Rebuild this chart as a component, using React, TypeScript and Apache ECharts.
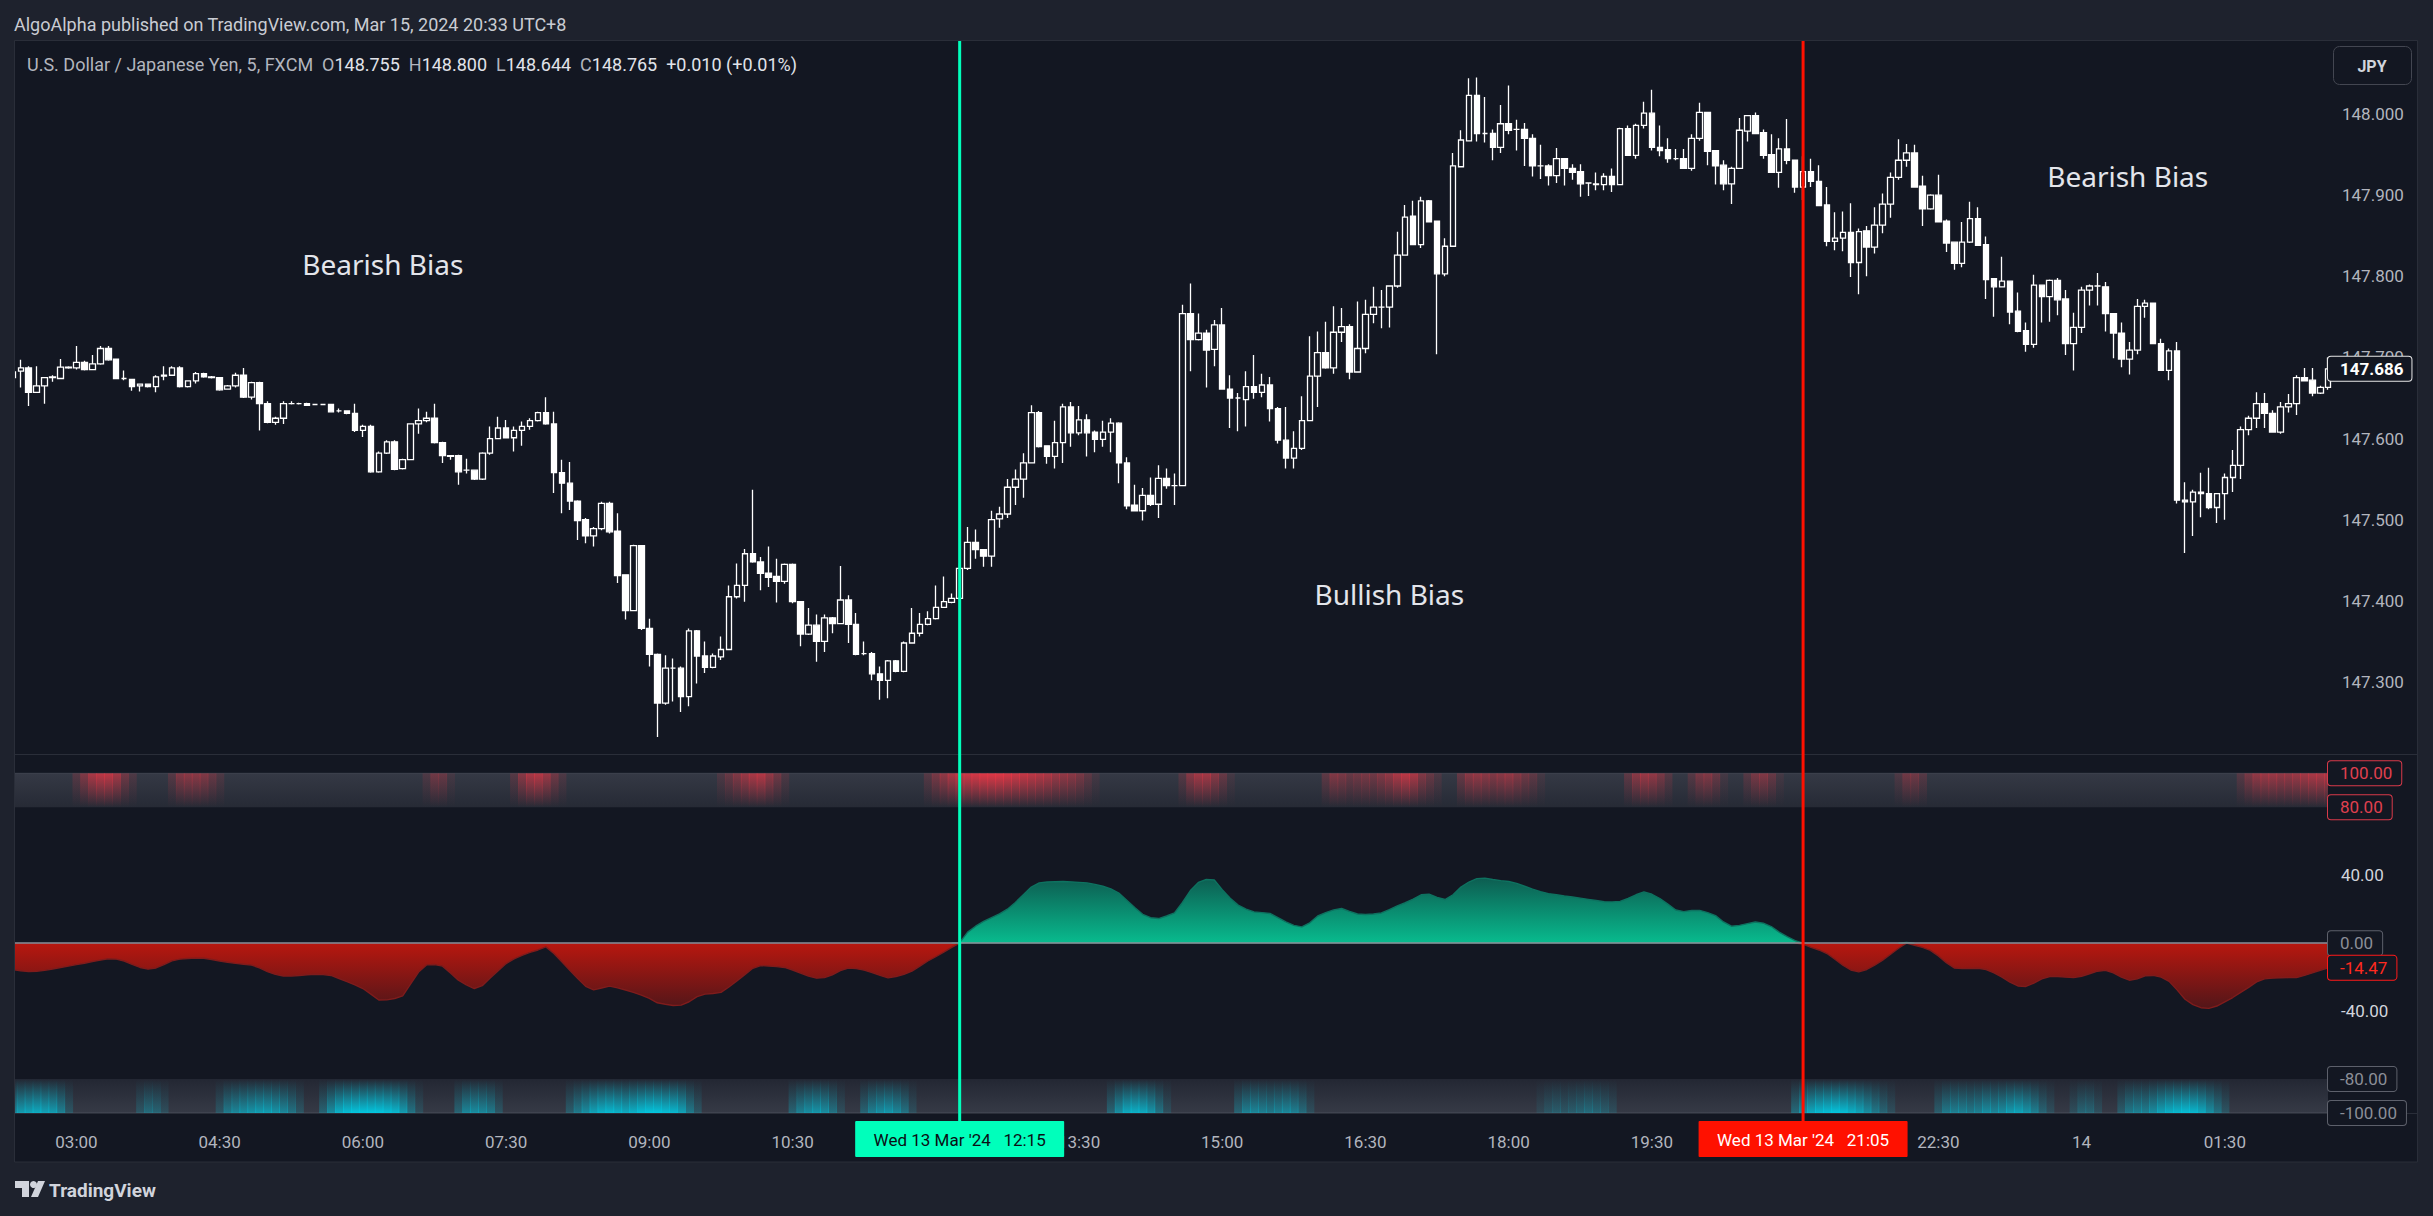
import React, { useEffect, useRef } from "react";
import * as echarts from "echarts";

const W = 2433;
const H = 1216;

// USD/JPY 5-minute candles, bar 0 = 02:20 (Wed 13 Mar '24). [open, close, low, high]
const candles: number[][] = [
  [147.675, 147.682, 147.672, 147.688], [147.683, 147.687, 147.663, 147.697], [147.687, 147.657, 147.640, 147.689], [147.657, 147.665, 147.657, 147.689], [147.665, 147.675, 147.643, 147.676],
  [147.675, 147.676, 147.670, 147.678], [147.674, 147.688, 147.674, 147.698], [147.687, 147.688, 147.686, 147.689], [147.687, 147.694, 147.685, 147.714], [147.694, 147.685, 147.684, 147.696],
  [147.685, 147.692, 147.685, 147.703], [147.692, 147.711, 147.691, 147.714], [147.711, 147.697, 147.696, 147.714], [147.698, 147.674, 147.674, 147.698], [147.674, 147.674, 147.672, 147.684],
  [147.673, 147.664, 147.659, 147.673], [147.665, 147.667, 147.658, 147.668], [147.667, 147.664, 147.663, 147.668], [147.664, 147.676, 147.657, 147.678], [147.677, 147.678, 147.672, 147.689],
  [147.678, 147.687, 147.677, 147.689], [147.687, 147.664, 147.663, 147.689], [147.664, 147.671, 147.663, 147.672], [147.671, 147.680, 147.668, 147.682], [147.680, 147.676, 147.675, 147.681],
  [147.676, 147.675, 147.674, 147.677], [147.675, 147.660, 147.659, 147.676], [147.661, 147.665, 147.660, 147.666], [147.665, 147.678, 147.663, 147.681], [147.678, 147.651, 147.650, 147.687],
  [147.651, 147.669, 147.648, 147.670], [147.669, 147.643, 147.610, 147.670], [147.643, 147.620, 147.619, 147.646], [147.620, 147.625, 147.617, 147.627], [147.625, 147.643, 147.618, 147.646],
  [147.643, 147.643, 147.642, 147.646], [147.643, 147.643, 147.642, 147.644], [147.643, 147.641, 147.640, 147.644], [147.642, 147.642, 147.641, 147.643], [147.642, 147.642, 147.641, 147.643],
  [147.642, 147.633, 147.632, 147.643], [147.634, 147.634, 147.632, 147.637], [147.634, 147.631, 147.630, 147.635], [147.631, 147.610, 147.608, 147.643], [147.610, 147.615, 147.602, 147.617],
  [147.615, 147.559, 147.558, 147.617], [147.559, 147.582, 147.558, 147.584], [147.582, 147.596, 147.581, 147.598], [147.596, 147.562, 147.561, 147.598], [147.563, 147.574, 147.562, 147.575],
  [147.574, 147.618, 147.574, 147.619], [147.618, 147.622, 147.606, 147.637], [147.622, 147.625, 147.620, 147.633], [147.625, 147.595, 147.594, 147.643], [147.595, 147.579, 147.570, 147.596],
  [147.579, 147.578, 147.574, 147.579], [147.579, 147.559, 147.543, 147.580], [147.561, 147.561, 147.557, 147.575], [147.561, 147.550, 147.549, 147.562], [147.550, 147.582, 147.549, 147.583],
  [147.582, 147.600, 147.580, 147.615], [147.600, 147.613, 147.600, 147.627], [147.613, 147.601, 147.600, 147.623], [147.601, 147.610, 147.584, 147.615], [147.610, 147.615, 147.591, 147.621],
  [147.615, 147.622, 147.611, 147.625], [147.622, 147.632, 147.621, 147.633], [147.632, 147.618, 147.617, 147.651], [147.618, 147.558, 147.533, 147.633], [147.558, 147.545, 147.508, 147.574],
  [147.545, 147.523, 147.512, 147.571], [147.523, 147.499, 147.475, 147.524], [147.500, 147.480, 147.471, 147.502], [147.480, 147.489, 147.467, 147.491], [147.489, 147.520, 147.487, 147.522],
  [147.520, 147.485, 147.483, 147.522], [147.486, 147.431, 147.422, 147.508], [147.432, 147.388, 147.377, 147.432], [147.388, 147.468, 147.387, 147.469], [147.468, 147.366, 147.364, 147.468],
  [147.366, 147.334, 147.319, 147.378], [147.334, 147.274, 147.232, 147.335], [147.274, 147.317, 147.272, 147.333], [147.317, 147.317, 147.276, 147.329], [147.317, 147.282, 147.263, 147.319],
  [147.282, 147.363, 147.270, 147.366], [147.363, 147.332, 147.298, 147.364], [147.332, 147.318, 147.311, 147.350], [147.318, 147.332, 147.317, 147.335], [147.331, 147.340, 147.327, 147.356],
  [147.340, 147.405, 147.339, 147.419], [147.405, 147.419, 147.403, 147.446], [147.419, 147.458, 147.399, 147.464], [147.458, 147.448, 147.447, 147.537], [147.448, 147.434, 147.413, 147.454],
  [147.434, 147.429, 147.417, 147.467], [147.430, 147.424, 147.398, 147.452], [147.424, 147.445, 147.421, 147.446], [147.445, 147.399, 147.397, 147.446], [147.399, 147.359, 147.344, 147.399],
  [147.359, 147.370, 147.358, 147.391], [147.370, 147.350, 147.325, 147.383], [147.350, 147.379, 147.337, 147.383], [147.379, 147.372, 147.360, 147.380], [147.372, 147.401, 147.371, 147.443],
  [147.401, 147.371, 147.348, 147.407], [147.371, 147.334, 147.333, 147.385], [147.335, 147.335, 147.333, 147.350], [147.335, 147.310, 147.302, 147.337], [147.310, 147.302, 147.278, 147.319],
  [147.302, 147.326, 147.280, 147.327], [147.326, 147.313, 147.312, 147.327], [147.313, 147.348, 147.312, 147.350], [147.348, 147.360, 147.347, 147.391], [147.360, 147.371, 147.356, 147.385],
  [147.371, 147.378, 147.370, 147.387], [147.378, 147.392, 147.377, 147.419], [147.392, 147.399, 147.391, 147.430], [147.398, 147.403, 147.397, 147.409], [147.403, 147.440, 147.401, 147.446],
  [147.440, 147.472, 147.438, 147.491], [147.472, 147.463, 147.452, 147.488], [147.463, 147.455, 147.442, 147.464], [147.455, 147.500, 147.442, 147.511], [147.501, 147.507, 147.490, 147.516],
  [147.507, 147.540, 147.502, 147.550], [147.540, 147.550, 147.518, 147.562], [147.550, 147.570, 147.527, 147.582], [147.570, 147.632, 147.570, 147.641], [147.632, 147.590, 147.589, 147.634],
  [147.591, 147.578, 147.569, 147.591], [147.578, 147.595, 147.563, 147.622], [147.595, 147.639, 147.570, 147.643], [147.639, 147.607, 147.590, 147.645], [147.607, 147.623, 147.604, 147.640],
  [147.623, 147.607, 147.578, 147.630], [147.608, 147.599, 147.583, 147.610], [147.599, 147.608, 147.590, 147.622], [147.608, 147.619, 147.583, 147.625], [147.619, 147.570, 147.545, 147.620],
  [147.570, 147.517, 147.513, 147.577], [147.518, 147.511, 147.511, 147.543], [147.511, 147.530, 147.499, 147.539], [147.530, 147.519, 147.517, 147.552], [147.519, 147.551, 147.502, 147.567],
  [147.551, 147.542, 147.538, 147.563], [147.542, 147.542, 147.518, 147.557], [147.542, 147.754, 147.542, 147.765], [147.754, 147.722, 147.683, 147.791], [147.722, 147.730, 147.721, 147.754],
  [147.730, 147.709, 147.663, 147.734], [147.710, 147.740, 147.689, 147.746], [147.740, 147.661, 147.660, 147.761], [147.661, 147.650, 147.613, 147.678], [147.650, 147.650, 147.609, 147.656],
  [147.648, 147.664, 147.615, 147.683], [147.664, 147.657, 147.649, 147.703], [147.657, 147.666, 147.651, 147.680], [147.666, 147.637, 147.621, 147.676], [147.637, 147.598, 147.594, 147.639],
  [147.598, 147.576, 147.563, 147.639], [147.576, 147.588, 147.563, 147.609], [147.588, 147.622, 147.586, 147.652], [147.622, 147.677, 147.622, 147.726], [147.677, 147.706, 147.639, 147.732],
  [147.706, 147.687, 147.686, 147.744], [147.687, 147.731, 147.680, 147.763], [147.731, 147.738, 147.719, 147.761], [147.738, 147.682, 147.673, 147.741], [147.682, 147.711, 147.682, 147.769],
  [147.711, 147.753, 147.705, 147.771], [147.753, 147.762, 147.742, 147.787], [147.762, 147.762, 147.736, 147.783], [147.762, 147.788, 147.737, 147.789], [147.788, 147.826, 147.786, 147.855],
  [147.826, 147.873, 147.826, 147.888], [147.874, 147.839, 147.839, 147.893], [147.839, 147.893, 147.835, 147.898], [147.893, 147.867, 147.867, 147.894], [147.868, 147.803, 147.704, 147.868],
  [147.803, 147.837, 147.800, 147.847], [147.837, 147.936, 147.837, 147.952], [147.935, 147.968, 147.935, 147.980], [147.967, 148.023, 147.966, 148.044], [148.023, 147.976, 147.966, 148.045],
  [147.976, 147.976, 147.965, 148.021], [147.976, 147.959, 147.943, 147.981], [147.959, 147.988, 147.952, 148.011], [147.988, 147.980, 147.975, 148.035], [147.981, 147.981, 147.955, 147.993],
  [147.981, 147.970, 147.936, 147.989], [147.970, 147.936, 147.923, 147.975], [147.936, 147.936, 147.920, 147.962], [147.936, 147.924, 147.912, 147.938], [147.924, 147.945, 147.915, 147.958],
  [147.945, 147.933, 147.912, 147.945], [147.933, 147.928, 147.919, 147.938], [147.929, 147.914, 147.898, 147.938], [147.915, 147.915, 147.899, 147.916], [147.913, 147.914, 147.906, 147.928],
  [147.913, 147.923, 147.906, 147.927], [147.923, 147.913, 147.904, 147.933], [147.913, 147.982, 147.913, 147.983], [147.982, 147.949, 147.949, 147.986], [147.949, 147.986, 147.945, 147.988],
  [147.986, 148.001, 147.982, 148.015], [148.001, 147.959, 147.955, 148.030], [147.959, 147.955, 147.948, 147.986], [147.956, 147.945, 147.940, 147.970], [147.945, 147.945, 147.943, 147.957],
  [147.945, 147.933, 147.933, 147.957], [147.933, 147.970, 147.930, 147.975], [147.970, 148.002, 147.967, 148.014], [148.002, 147.954, 147.937, 148.002], [147.955, 147.936, 147.913, 147.955],
  [147.937, 147.914, 147.906, 147.943], [147.914, 147.933, 147.889, 147.935], [147.933, 147.980, 147.933, 147.995], [147.979, 147.998, 147.966, 147.998], [147.998, 147.976, 147.976, 148.002],
  [147.977, 147.949, 147.945, 147.981], [147.950, 147.928, 147.928, 147.975], [147.928, 147.957, 147.909, 147.970], [147.957, 147.943, 147.938, 147.994], [147.943, 147.910, 147.903, 147.943],
  [147.910, 147.929, 147.894, 147.948], [147.929, 147.917, 147.910, 147.945], [147.917, 147.887, 147.887, 147.937], [147.888, 147.843, 147.837, 147.910], [147.843, 147.847, 147.832, 147.879],
  [147.847, 147.854, 147.831, 147.880], [147.854, 147.817, 147.799, 147.890], [147.817, 147.855, 147.778, 147.859], [147.856, 147.836, 147.800, 147.862], [147.836, 147.863, 147.828, 147.885],
  [147.863, 147.889, 147.853, 147.902], [147.889, 147.922, 147.872, 147.928], [147.922, 147.943, 147.919, 147.969], [147.943, 147.952, 147.935, 147.963], [147.952, 147.910, 147.910, 147.962],
  [147.911, 147.883, 147.862, 147.924], [147.883, 147.900, 147.882, 147.901], [147.900, 147.867, 147.867, 147.925], [147.868, 147.841, 147.830, 147.870], [147.842, 147.816, 147.808, 147.842],
  [147.816, 147.842, 147.811, 147.867], [147.842, 147.871, 147.841, 147.892], [147.871, 147.838, 147.838, 147.885], [147.839, 147.796, 147.772, 147.849], [147.797, 147.787, 147.750, 147.797],
  [147.787, 147.794, 147.787, 147.824], [147.794, 147.756, 147.741, 147.794], [147.757, 147.732, 147.731, 147.780], [147.733, 147.716, 147.707, 147.743], [147.716, 147.789, 147.712, 147.802],
  [147.789, 147.775, 147.743, 147.789], [147.775, 147.795, 147.744, 147.796], [147.795, 147.771, 147.752, 147.798], [147.772, 147.717, 147.703, 147.783], [147.717, 147.737, 147.684, 147.755],
  [147.737, 147.783, 147.730, 147.787], [147.783, 147.788, 147.764, 147.790], [147.788, 147.788, 147.764, 147.804], [147.787, 147.754, 147.732, 147.793], [147.754, 147.730, 147.699, 147.754],
  [147.730, 147.698, 147.688, 147.743], [147.698, 147.709, 147.679, 147.719], [147.709, 147.763, 147.704, 147.772], [147.763, 147.767, 147.749, 147.771], [147.767, 147.717, 147.717, 147.767],
  [147.717, 147.684, 147.684, 147.723], [147.684, 147.708, 147.672, 147.711], [147.708, 147.524, 147.520, 147.719], [147.524, 147.522, 147.459, 147.546], [147.522, 147.534, 147.480, 147.537],
  [147.534, 147.532, 147.503, 147.558], [147.532, 147.515, 147.513, 147.564], [147.515, 147.532, 147.496, 147.533], [147.532, 147.552, 147.500, 147.557], [147.552, 147.567, 147.534, 147.586],
  [147.567, 147.611, 147.550, 147.615], [147.611, 147.625, 147.604, 147.628], [147.625, 147.643, 147.613, 147.657], [147.643, 147.631, 147.613, 147.656], [147.631, 147.608, 147.608, 147.635],
  [147.608, 147.639, 147.606, 147.645], [147.639, 147.643, 147.632, 147.655], [147.643, 147.675, 147.629, 147.678], [147.675, 147.671, 147.671, 147.687], [147.672, 147.656, 147.652, 147.687],
  [147.656, 147.663, 147.655, 147.665], [147.663, 147.686, 147.660, 147.700],
];

// Oscillator value per bar
const oscillator: number[] = [
  -15.5, -16.2, -16.7, -16.5, -16.0, -15.2, -14.3, -13.5, -12.6, -11.8,
  -10.8, -10.0, -9.2, -9.4, -10.5, -12.5, -14.3, -15.3, -14.6, -12.6,
  -10.4, -9.4, -9.0, -8.8, -8.9, -9.6, -10.5, -11.2, -11.9, -12.4,
  -12.9, -14.5, -16.8, -18.4, -19.3, -19.4, -19.0, -18.6, -18.3, -18.5,
  -19.0, -20.8, -22.7, -24.6, -26.7, -30.0, -33.5, -33.4, -32.6, -31.0,
  -24.0, -17.0, -12.8, -12.6, -13.5, -17.5, -21.8, -24.5, -26.7, -25.0,
  -20.5, -16.3, -12.0, -9.2, -7.2, -5.4, -4.0, -2.2, -6.1, -11.0,
  -16.0, -20.8, -25.4, -27.5, -26.4, -25.3, -26.3, -27.6, -29.0, -30.6,
  -32.5, -35.1, -36.0, -36.7, -36.5, -34.5, -31.5, -30.0, -29.6, -29.0,
  -25.8, -22.2, -18.5, -14.8, -13.2, -13.4, -13.8, -14.3, -15.8, -17.6,
  -19.4, -20.6, -20.3, -18.6, -16.2, -14.7, -15.0, -15.9, -17.3, -19.0,
  -20.4, -19.6, -18.4, -16.5, -13.5, -10.5, -8.0, -5.3, -2.5, 0.3,
  6.5, 10.0, 12.8, 15.0, 17.2, 20.0, 24.0, 28.5, 33.0, 35.5,
  36.0, 36.2, 36.3, 36.1, 35.8, 35.5, 34.6, 33.5, 32.0, 29.5,
  25.3, 21.0, 17.0, 15.0, 14.5, 16.0, 17.8, 24.0, 31.0, 35.8,
  37.5, 37.2, 31.5, 26.5, 22.4, 20.0, 18.4, 18.0, 17.5, 15.0,
  12.5, 10.5, 9.6, 12.0, 16.0, 18.0, 19.6, 20.4, 18.7, 17.2,
  16.9, 17.2, 17.8, 19.8, 22.0, 23.8, 26.0, 28.5, 28.8, 27.0,
  25.7, 28.5, 33.0, 36.0, 38.0, 38.3, 37.5, 36.8, 36.3, 35.2,
  33.5, 31.8, 30.3, 29.2, 28.5, 27.8, 27.2, 26.5, 25.8, 25.1,
  24.4, 24.3, 24.6, 26.3, 28.5, 30.2, 28.8, 26.3, 23.0, 19.5,
  18.6, 19.2, 19.3, 18.0, 16.2, 12.5, 10.0, 10.5, 11.5, 12.5,
  11.8, 9.8, 6.5, 3.8, 1.5, -0.5, -2.5, -4.0, -6.1, -9.5,
  -13.0, -15.8, -16.9, -15.5, -13.0, -10.0, -6.5, -3.0, 0.5, -1.2,
  -2.5, -4.2, -7.5, -11.5, -14.6, -15.0, -14.9, -14.8, -15.5, -17.5,
  -20.0, -23.0, -25.2, -25.5, -23.5, -21.0, -19.6, -19.6, -20.0, -20.3,
  -19.5, -18.0, -16.5, -16.0, -17.5, -20.0, -21.8, -21.0, -19.2, -19.0,
  -20.0, -22.5, -27.5, -33.0, -36.2, -38.0, -38.4, -37.0, -34.5, -32.0,
  -29.0, -26.0, -22.8, -21.0, -20.6, -20.4, -20.3, -20.3, -19.0, -17.5,
  -16.0, -14.47,
];

// Heat strips: [bar, intensity 0..1]
const overboughtHeat: number[][] = [
  [8, .2], [9, .45], [10, .7], [11, .8], [12, .8], [13, .65], [14, .35], [15, .15],
  [20, .2], [21, .45], [22, .5], [23, .5], [24, .45], [25, .3], [26, .15],
  [52, .15], [53, .35], [54, .3], [55, .1],
  [63, .2], [64, .5], [65, .7], [66, .75], [67, .6], [68, .35], [69, .15],
  [89, .15], [90, .3], [91, .45], [92, .6], [93, .7], [94, .75], [95, .55], [96, .35], [97, .15],
  [115, .2], [116, .4], [117, .55], [118, .7], [119, .8], [120, .9], [121, .95], [122, 1], [123, 1], [124, 1], [125, .95], [126, .9], [127, .85], [128, .8], [129, .75], [130, .7], [131, .6], [132, .55], [133, .5], [134, .4], [135, .25], [136, .1],
  [147, .2], [148, .5], [149, .65], [150, .65], [151, .5], [152, .3], [153, .1],
  [165, .25], [166, .45], [167, .4], [168, .3], [169, .35], [170, .4], [171, .35], [172, .45], [173, .55], [174, .7], [175, .8], [176, .7], [177, .45], [178, .3], [179, .15],
  [182, .3], [183, .5], [184, .55], [185, .5], [186, .45], [187, .5], [188, .55], [189, .45], [190, .35], [191, .25], [192, .1],
  [203, .25], [204, .5], [205, .6], [206, .55], [207, .4], [208, .2],
  [211, .2], [212, .4], [213, .45], [214, .3], [215, .1],
  [218, .2], [219, .4], [220, .45], [221, .3], [222, .1],
  [237, .15], [238, .35], [239, .35], [240, .2],
  [280, .2], [281, .4], [282, .55], [283, .6], [284, .6], [285, .55], [286, .55], [287, .6], [288, .65], [289, .7], [290, .7], [291, .7],
];
const oversoldHeat: number[][] = [
  [0, .5], [1, .7], [2, .75], [3, .8], [4, .75], [5, .7], [6, .5], [7, .2],
  [16, .2], [17, .35], [18, .3], [19, .15],
  [26, .2], [27, .45], [28, .55], [29, .6], [30, .65], [31, .7], [32, .7], [33, .65], [34, .55], [35, .4], [36, .2],
  [39, .3], [40, .6], [41, .85], [42, .95], [43, 1], [44, 1], [45, 1], [46, 1], [47, .95], [48, .9], [49, .7], [50, .4], [51, .15],
  [56, .3], [57, .55], [58, .6], [59, .55], [60, .45], [61, .2],
  [70, .25], [71, .45], [72, .6], [73, .75], [74, .85], [75, .9], [76, .85], [77, .8], [78, .85], [79, .95], [80, 1], [81, 1], [82, .95], [83, .9], [84, .75], [85, .45], [86, .2],
  [98, .3], [99, .5], [100, .6], [101, .65], [102, .6], [103, .4], [104, .15],
  [107, .3], [108, .5], [109, .6], [110, .65], [111, .55], [112, .4], [113, .15],
  [138, .3], [139, .6], [140, .8], [141, .85], [142, .8], [143, .65], [144, .4], [145, .15],
  [154, .3], [155, .5], [156, .55], [157, .5], [158, .45], [159, .5], [160, .55], [161, .5], [162, .35], [163, .15],
  [192, .1], [193, .2], [194, .25], [195, .2], [196, .25], [197, .3], [198, .35], [199, .3], [200, .25], [201, .15],
  [224, .35], [225, .6], [226, .8], [227, .9], [228, .95], [229, 1], [230, .95], [231, .85], [232, .75], [233, .6], [234, .45], [235, .3], [236, .15],
  [242, .25], [243, .45], [244, .5], [245, .5], [246, .45], [247, .5], [248, .6], [249, .55], [250, .6], [251, .7], [252, .75], [253, .65], [254, .5], [255, .3], [256, .15],
  [259, .15], [260, .3], [261, .3], [262, .15],
  [265, .25], [266, .45], [267, .5], [268, .5], [269, .6], [270, .75], [271, .85], [272, .9], [273, .95], [274, .9], [275, .8], [276, .6], [277, .4], [278, .2],
];

// Visible time-axis ticks (12:00 and 21:00 are covered by the crosshair badges in the reference)
const timeTickBars = [8, 26, 44, 62, 80, 98, 134, 152, 170, 188, 206, 242, 260, 278];
const timeTickLabels = ["03:00", "04:30", "06:00", "07:30", "09:00", "10:30", "13:30", "15:00", "16:30", "18:00", "19:30", "22:30", "14", "01:30"];
const priceTicks = [147.3, 147.4, 147.5, 147.6, 147.7, 147.8, 147.9, 148.0];
const oscTicks = [40, -40];
const oscUpperLevels = [100, 80];
const oscLowerLevels = [0, -80, -100];
const biasFlips = [
  { bar: 119, label: "Wed 13 Mar '24   12:15", bullish: true },
  { bar: 225, label: "Wed 13 Mar '24   21:05", bullish: false },
];
const biasLabels = [
  { text: "Bearish Bias", bar: 46.5, price: 147.815 },
  { text: "Bullish Bias", bar: 173, price: 147.408 },
  { text: "Bearish Bias", bar: 265.8, price: 147.924 },
];
const headerTitle = "AlgoAlpha published on TradingView.com, Mar 15, 2024 20:33 UTC+8";
const symbolTitle = "U.S. Dollar / Japanese Yen, 5, FXCM";
const headerOHLC = [["O", "148.755"], ["H", "148.800"], ["L", "148.644"], ["C", "148.765"]];
const headerChange = "+0.010 (+0.01%)";

const FONT = "Roboto, 'Noto Sans', sans-serif";
const BG = "#131722";
const OUTER = "#1e222d";
const BORDER = "#2a2e39";

export default function App() {
  const ref = useRef<HTMLDivElement>(null);
  useEffect(() => {
    const chart = echarts.init(ref.current!, null, { renderer: "svg" });
    const n = oscillator.length;
    const neg = oscillator.map((v, i) => {
      if (v <= 0) return [i, v];
      const a = i > 0 ? oscillator[i - 1] : 1, b = i < n - 1 ? oscillator[i + 1] : 1;
      return a <= 0 || b <= 0 ? [i, 0] : [i, "-"];
    });
    const pos = oscillator.map((v, i) => {
      if (v >= 0) return [i, v];
      const a = i > 0 ? oscillator[i - 1] : -1, b = i < n - 1 ? oscillator[i + 1] : -1;
      return a >= 0 || b >= 0 ? [i, 0] : [i, "-"];
    });
    const heat = overboughtHeat.map((d) => [d[0], d[1], 0]).concat(oversoldHeat.map((d) => [d[0], d[1], 1]));
    const xRange = { min: 0.276, max: 290.97 };

    const option: any = {
      animation: false,
      backgroundColor: BG,
      grid: [
        { left: 15, right: 105, top: 41, height: 713, containLabel: false, outerBoundsMode: "none" },
        { left: 15, right: 105, top: 755, height: 358, containLabel: false, outerBoundsMode: "none" },
      ],
      xAxis: [
        { type: "value", gridIndex: 0, ...xRange, show: false, splitLine: { show: false } },
        {
          type: "value", gridIndex: 1, ...xRange,
          axisLine: { show: false }, axisTick: { show: false }, splitLine: { show: false },
          axisLabel: {
            customValues: timeTickBars, color: "#b2b5be", fontSize: 17, fontFamily: FONT,
            margin: 29, verticalAlign: "middle",
            formatter: (v: number) => timeTickLabels[timeTickBars.indexOf(Math.round(v))] ?? "",
          },
        },
      ],
      yAxis: [
        {
          type: "value", gridIndex: 0, position: "right", min: 147.2112, max: 148.09, scale: true,
          axisLine: { show: false }, axisTick: { show: false }, splitLine: { show: false },
          axisLabel: { customValues: priceTicks, color: "#b2b5be", fontSize: 17, fontFamily: FONT, margin: 14, align: "left", formatter: (v: number) => v.toFixed(3) },
        },
        {
          type: "value", gridIndex: 1, position: "right", min: -100, max: 110.8,
          axisLine: { show: false }, axisTick: { show: false }, splitLine: { show: false },
          axisLabel: { customValues: oscTicks, color: "#d1d4dc", fontSize: 17, fontFamily: FONT, margin: 13, align: "left", formatter: (v: number) => v.toFixed(2) },
        },
      ],
      series: [
        {
          type: "custom", xAxisIndex: 1, yAxisIndex: 1, silent: true, clip: true, z: 1,
          data: [[80, 100, 0], [-100, -80, 1]],
          renderItem: (params: any, api: any) => {
            const cs = params.coordSys;
            const yTop = api.coord([1, api.value(1)])[1];
            const yBot = api.coord([1, api.value(0)])[1];
            const upper = api.value(2) === 0;
            return {
              type: "group",
              children: [
                {
                  type: "rect", shape: { x: cs.x, y: yTop, width: cs.width, height: yBot - yTop },
                  style: {
                    fill: {
                      type: "linear", x: 0, y: 0, x2: 0, y2: 1,
                      colorStops: upper
                        ? [{ offset: 0, color: "#353945" }, { offset: 1, color: "#262a35" }]
                        : [{ offset: 0, color: "#232733" }, { offset: 1, color: "#363a46" }],
                    },
                  },
                },
                {
                  type: "line", shape: { x1: cs.x, y1: upper ? yTop : yBot, x2: cs.x + cs.width, y2: upper ? yTop : yBot },
                  style: { stroke: upper ? "#3f434f" : "#4a4e5a", lineWidth: 1 },
                },
              ],
            };
          },
        },
        {
          type: "custom", xAxisIndex: 1, yAxisIndex: 1, silent: true, clip: true, z: 2,
          data: heat,
          renderItem: (params: any, api: any) => {
            const i = api.value(0), a = api.value(1), band = api.value(2);
            const top = band === 0 ? 100 : -80, bot = band === 0 ? 80 : -100;
            const p0 = api.coord([i - 0.5, top]);
            const p1 = api.coord([i + 0.5, bot]);
            const fill = band === 0
              ? { type: "linear", x: 0, y: 0, x2: 0, y2: 1, colorStops: [{ offset: 0, color: `rgba(242,54,69,${0.9 * a})` }, { offset: 1, color: "rgba(242,54,69,0)" }] }
              : { type: "linear", x: 0, y: 0, x2: 0, y2: 1, colorStops: [{ offset: 0, color: "rgba(0,188,212,0)" }, { offset: 1, color: `rgba(0,205,230,${0.95 * a})` }] };
            return { type: "rect", shape: { x: p0[0], y: p0[1], width: p1[0] - p0[0] + 0.6, height: p1[1] - p0[1] }, style: { fill } };
          },
        },
        {
          type: "line", xAxisIndex: 1, yAxisIndex: 1, data: neg, showSymbol: false, symbol: "none", silent: true, z: 3,
          lineStyle: { color: "#7e1c1c", width: 1.4 },
          areaStyle: { origin: 0, color: { type: "linear", x: 0, y: 0, x2: 0, y2: 1, colorStops: [{ offset: 0, color: "#b8170f" }, { offset: 1, color: "#521619" }] }, opacity: 1 },
        },
        {
          type: "line", xAxisIndex: 1, yAxisIndex: 1, data: pos, showSymbol: false, symbol: "none", silent: true, z: 3,
          lineStyle: { color: "#0e7260", width: 1.4 },
          areaStyle: { origin: 0, color: { type: "linear", x: 0, y: 0, x2: 0, y2: 1, colorStops: [{ offset: 0, color: "#0d5d51" }, { offset: 1, color: "#08bb8e" }] }, opacity: 1 },
          markLine: { silent: true, symbol: "none", label: { show: false }, lineStyle: { color: "#8c8f99", width: 1.5, type: "solid" }, data: [{ yAxis: 0 }] },
        },
        {
          type: "candlestick", xAxisIndex: 0, yAxisIndex: 0, barWidth: 6, silent: true, z: 5,
          data: candles.map((c, i) => [i, c[0], c[1], c[2], c[3]]),
          itemStyle: { color: BG, color0: "#ffffff", borderColor: "#ffffff", borderColor0: "#ffffff", borderWidth: 1.3 },
        },
      ],
    };
    chart.setOption(option);

    const main = (bar: number, price: number) => chart.convertToPixel({ gridIndex: 0 } as any, [bar, price]) as number[];
    const oscY = (v: number) => (chart.convertToPixel({ gridIndex: 1 } as any, [1, v]) as number[])[1];

    const g: any[] = [];
    // outer frame
    g.push({ type: "rect", shape: { x: 0, y: 0, width: W, height: 41 }, style: { fill: OUTER }, z: 10 });
    g.push({ type: "rect", shape: { x: 0, y: 0, width: 14, height: H }, style: { fill: OUTER }, z: 10 });
    g.push({ type: "rect", shape: { x: 2418, y: 0, width: W - 2418, height: H }, style: { fill: OUTER }, z: 10 });
    g.push({ type: "rect", shape: { x: 0, y: 1162, width: W, height: H - 1162 }, style: { fill: OUTER }, z: 10 });
    g.push({ type: "rect", shape: { x: 14.5, y: 40.5, width: 2403, height: 1121.5 }, style: { fill: "none", stroke: BORDER, lineWidth: 1 }, z: 11 });
    g.push({ type: "line", shape: { x1: 15, y1: 754.5, x2: 2418, y2: 754.5 }, style: { stroke: BORDER, lineWidth: 1 }, z: 11 });
    g.push({ type: "line", shape: { x1: 15, y1: 1113.5, x2: 2418, y2: 1113.5 }, style: { stroke: BORDER, lineWidth: 1 }, z: 11 });

    // header texts
    g.push({ type: "text", x: 14, y: 24, style: { text: headerTitle, fill: "#c9ccd3", fontSize: 18, fontFamily: FONT, verticalAlign: "middle" }, z: 20 });
    const ohlcText = headerOHLC.map(([k, v]) => `{g|${k}}{w|${v}}`).join("  ");
    g.push({
      type: "text", x: 27, y: 64,
      style: {
        text: `{g|${symbolTitle}}  ${ohlcText}  {w|${headerChange}}`, verticalAlign: "middle", fontSize: 18, fontFamily: FONT,
        rich: { g: { fill: "#b2b5be", fontSize: 18, fontFamily: FONT }, w: { fill: "#e1e3ea", fontSize: 18, fontFamily: FONT } },
      }, z: 20,
    });

    // JPY button
    g.push({ type: "rect", shape: { x: 2333.5, y: 46.5, width: 78, height: 38, r: 6 }, style: { fill: BG, stroke: "#434651", lineWidth: 1 }, z: 20 });
    g.push({ type: "text", x: 2372, y: 66, style: { text: "JPY", fill: "#d1d4dc", fontSize: 16, fontWeight: "bold", fontFamily: FONT, align: "center", verticalAlign: "middle" }, z: 21 });

    // bias labels
    biasLabels.forEach((b) => {
      const p = main(b.bar, b.price);
      g.push({ type: "text", x: p[0], y: p[1], style: { text: b.text, fill: "#e3e5eb", fontSize: 28, fontFamily: "'Noto Sans', 'Open Sans', sans-serif", align: "center", verticalAlign: "middle" }, z: 20 });
    });

    // last price box
    const last = candles[candles.length - 1];
    const lastY = main(0, last[1])[1];
    g.push({
      type: "text", x: 2328, y: lastY,
      style: { text: last[1].toFixed(3), fill: "#ffffff", fontSize: 17, fontWeight: "bold", fontFamily: FONT, align: "left", verticalAlign: "middle", backgroundColor: BG, borderColor: "#e8e8e8", borderWidth: 1, borderRadius: 3, padding: [4, 8, 3, 12] },
      z: 40,
    });

    // oscillator level boxes
    const box = (v: number, text: string, color: string, border: string) => ({
      type: "text", x: 2328, y: oscY(v),
      style: { text, fill: color, fontSize: 17, fontFamily: FONT, align: "left", verticalAlign: "middle", backgroundColor: BG, borderColor: border, borderWidth: 1, borderRadius: 3, padding: [4, 9, 3, 12] },
      z: 40,
    });
    oscUpperLevels.forEach((v) => g.push(box(v, v.toFixed(2), "#e0404f", "#d83a4a")));
    oscLowerLevels.forEach((v) => g.push(box(v, v.toFixed(2), "#8b8e97", "#5d606b")));
    const lastOsc = oscillator[oscillator.length - 1];
    g.push(box(lastOsc, lastOsc.toFixed(2), "#ff2a1f", "#ff1a1a"));

    // bias flip lines & badges
    biasFlips.forEach((f) => {
      const x = main(f.bar, 148)[0];
      const col = f.bullish ? "#00ffbb" : "#ff1100";
      g.push({ type: "line", shape: { x1: x, y1: 41, x2: x, y2: 1121 }, style: { stroke: col, lineWidth: 3 }, z: 30 });
      g.push({ type: "rect", shape: { x: x - 104.5, y: 1121, width: 209, height: 36, r: 1 }, style: { fill: col }, z: 41 });
      g.push({ type: "text", x, y: 1139.5, style: { text: f.label, fill: f.bullish ? "#0b0e14" : "#ffffff", fontSize: 17, fontFamily: FONT, align: "center", verticalAlign: "middle" }, z: 42 });
    });

    // TradingView logo
    g.push({ type: "polygon", shape: { points: [[15, 1181], [29, 1181], [29, 1197], [22, 1197], [22, 1188], [15, 1188]] }, style: { fill: "#d1d4dc" }, z: 20 });
    g.push({ type: "circle", shape: { cx: 33.5, cy: 1184.5, r: 3.5 }, style: { fill: "#d1d4dc" }, z: 20 });
    g.push({ type: "polygon", shape: { points: [[38, 1181], [45, 1181], [38, 1197], [31, 1197]] }, style: { fill: "#d1d4dc" }, z: 20 });
    g.push({ type: "text", x: 49, y: 1190, style: { text: "TradingView", fill: "#d1d4dc", fontSize: 19, fontWeight: "bold", fontFamily: FONT, verticalAlign: "middle" }, z: 20 });

    chart.setOption({ graphic: g });
    return () => chart.dispose();
  }, []);
  return <div ref={ref} style={{ position: "absolute", left: 0, top: 0, width: W, height: H }} />;
}
